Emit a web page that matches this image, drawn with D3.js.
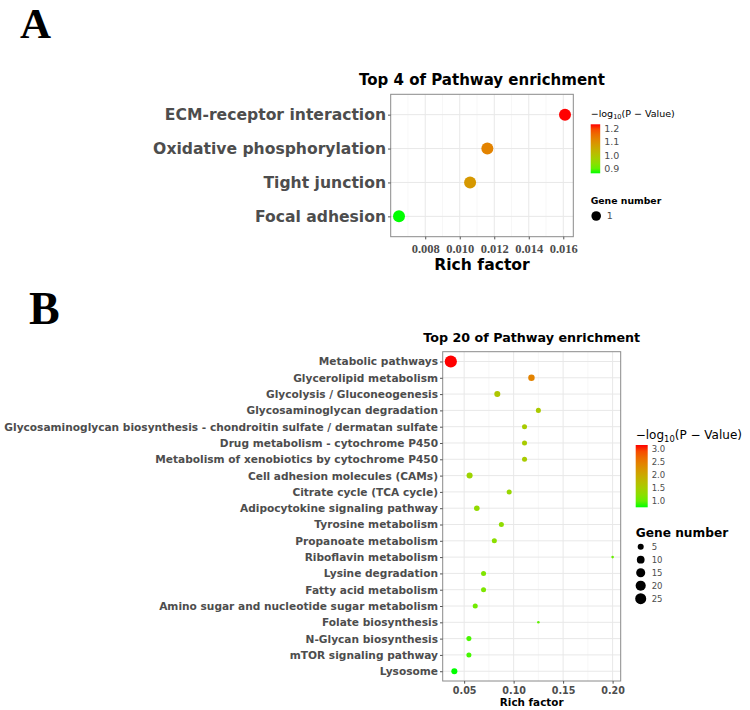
<html><head>
<meta charset="utf-8">
<title>Pathway enrichment</title>
<script src="https://d3js.org/d3.v7.min.js"></script>
<style>
  body { margin: 0; background: #fff; }
  text { font-family: "DejaVu Sans", sans-serif; }
</style>
</head>
<body>
<div id="chart"></div>
<script>
// ---- panel A data ----
const pathwaysA = ["ECM-receptor interaction", "Oxidative phosphorylation", "Tight junction", "Focal adhesion"];
const richA = [0.0161, 0.0116, 0.0106, 0.00648];
const logpA = [1.236, 1.124, 1.086, 0.862];
const genesA = [1, 1, 1, 1];
const xTicksA = [0.008, 0.010, 0.012, 0.014, 0.016];
const colorTicksA = [1.2, 1.1, 1.0, 0.9];
const sizeTicksA = [1];

// ---- panel B data ----
const pathwaysB = [
  "Metabolic pathways", "Glycerolipid metabolism", "Glycolysis / Gluconeogenesis",
  "Glycosaminoglycan degradation",
  "Glycosaminoglycan biosynthesis - chondroitin sulfate / dermatan sulfate",
  "Drug metabolism - cytochrome P450", "Metabolism of xenobiotics by cytochrome P450",
  "Cell adhesion molecules (CAMs)", "Citrate cycle (TCA cycle)", "Adipocytokine signaling pathway",
  "Tyrosine metabolism", "Propanoate metabolism", "Riboflavin metabolism", "Lysine degradation",
  "Fatty acid metabolism", "Amino sugar and nucleotide sugar metabolism", "Folate biosynthesis",
  "N-Glycan biosynthesis", "mTOR signaling pathway", "Lysosome"
];
const richB = [0.0365, 0.118, 0.0835, 0.125, 0.111, 0.111, 0.111, 0.0555, 0.0955, 0.0628,
  0.0876, 0.0805, 0.2, 0.0696, 0.0696, 0.0612, 0.125, 0.0548, 0.0548, 0.0401];
const logpB = [3.167, 2.44, 1.59, 1.54, 1.52, 1.52, 1.52, 1.40, 1.35, 1.30,
  1.28, 1.24, 1.00, 1.15, 1.13, 1.05, 0.95, 0.86, 0.85, 0.743];
const genesB = [32, 6, 5, 3, 3, 3, 3, 5, 3, 4, 3, 3, 1, 3, 3, 3, 1, 3, 3, 5];
const xTicksB = [0.05, 0.10, 0.15, 0.20];
const colorTicksB = [3.0, 2.5, 2.0, 1.5, 1.0];
const sizeTicksB = [5, 10, 15, 20, 25];

const svg = d3.select("#chart").append("svg")
  .attr("width", 750)
  .attr("height", 710);

const defs = svg.append("defs");
const lowColor = "#00ff00", highColor = "#ff0000";

// panel letters
svg.append("text").attr("x", 20).attr("y", 38)
  .style("font-family", "Liberation Serif").style("font-weight", "bold")
  .style("font-size", "43px").text("A");
svg.append("text").attr("x", 29).attr("y", 324)
  .style("font-family", "Liberation Serif").style("font-weight", "bold")
  .style("font-size", "46px").text("B");

function drawPanel(p) {
  const g = svg.append("g");
  const rows = p.names.map((n, i) => ({name: n, rich: p.rich[i], logp: p.logp[i], genes: p.genes[i]}));

  // ggplot style 5% expansion
  const ext = d3.extent(p.rich);
  const pad = (ext[1] - ext[0]) * 0.05;
  const x = d3.scaleLinear().domain([ext[0] - pad, ext[1] + pad]).range([p.left, p.right]);
  const y = d3.scalePoint().domain(p.names).range([p.top, p.bottom]).padding(0.6);

  const cExt = d3.extent(p.logp);
  const color = v => d3.interpolateLab(lowColor, highColor)((v - cExt[0]) / (cExt[1] - cExt[0]));
  const size = p.size;

  // minor grid
  const step = p.xTicks[1] - p.xTicks[0];
  const minor = [];
  for (let v = p.xTicks[0] - step / 2; v < x.domain()[1]; v += step) {
    if (v > x.domain()[0]) minor.push(v);
  }
  g.selectAll(".minor").data(minor).enter().append("line")
    .attr("x1", d => x(d)).attr("x2", d => x(d))
    .attr("y1", p.top).attr("y2", p.bottom)
    .attr("stroke", "#f2f2f2").attr("stroke-width", 0.6);
  g.selectAll(".vmaj").data(p.xTicks).enter().append("line")
    .attr("x1", d => x(d)).attr("x2", d => x(d))
    .attr("y1", p.top).attr("y2", p.bottom)
    .attr("stroke", "#e8e8e8").attr("stroke-width", 1);
  g.selectAll(".hmaj").data(p.names).enter().append("line")
    .attr("x1", p.left).attr("x2", p.right)
    .attr("y1", d => y(d)).attr("y2", d => y(d))
    .attr("stroke", "#e8e8e8").attr("stroke-width", 1);

  // points
  g.selectAll(".pt").data(rows).enter().append("circle")
    .attr("cx", d => x(d.rich)).attr("cy", d => y(d.name))
    .attr("r", d => size(d.genes))
    .attr("fill", d => color(d.logp));

  // border
  g.append("rect").attr("x", p.left).attr("y", p.top)
    .attr("width", p.right - p.left).attr("height", p.bottom - p.top)
    .attr("fill", "none").attr("stroke", "#8a8a8a").attr("stroke-width", 1);

  // y axis
  const yAxis = g.append("g").attr("transform", `translate(${p.left},0)`)
    .call(d3.axisLeft(y).tickSize(2.7).tickPadding(2));
  yAxis.select(".domain").remove();
  yAxis.selectAll("line").attr("stroke", "#555");
  yAxis.selectAll("text").attr("fill", "#4d4d4d")
    .style("font-family", "DejaVu Sans").style("font-weight", "bold")
    .style("font-size", p.yFont + "px");

  // x axis
  const xAxis = g.append("g").attr("transform", `translate(0,${p.bottom})`)
    .call(d3.axisBottom(x).tickValues(p.xTicks).tickFormat(d3.format(p.xFormat)).tickSize(2.7).tickPadding(p.xPad));
  xAxis.select(".domain").remove();
  xAxis.selectAll("line").attr("stroke", "#555");
  xAxis.selectAll("text").attr("fill", "#4d4d4d")
    .style("font-family", p.xFamily).style("font-weight", "bold")
    .style("font-size", p.xFont + "px");

  const cx = (p.left + p.right) / 2;
  g.append("text").attr("x", cx).attr("y", p.titleY).attr("text-anchor", "middle")
    .style("font-weight", "bold").style("font-size", p.titleFont + "px").text(p.title);
  g.append("text").attr("x", cx).attr("y", p.xlabY).attr("text-anchor", "middle")
    .style("font-weight", "bold").style("font-size", p.xlabFont + "px").text("Rich factor");

  // colour legend
  const L = p.legend;
  const lt = g.append("text").attr("x", L.x).attr("y", L.titleY).style("font-size", L.titleFont + "px");
  lt.append("tspan").text("\u2212log");
  lt.append("tspan").attr("dy", L.titleFont * 0.25).style("font-size", (L.titleFont * 0.7) + "px").text("10");
  lt.append("tspan").attr("dy", -L.titleFont * 0.25).text("(P \u2212 Value)");

  const gradId = "grad" + p.id;
  const grad = defs.append("linearGradient").attr("id", gradId)
    .attr("x1", 0).attr("y1", 1).attr("x2", 0).attr("y2", 0);
  d3.range(0, 1.0001, 0.1).forEach(t => {
    grad.append("stop").attr("offset", t).attr("stop-color", d3.interpolateLab(lowColor, highColor)(t));
  });
  g.append("rect").attr("x", L.x).attr("y", L.barTop)
    .attr("width", L.barW).attr("height", L.barBottom - L.barTop)
    .attr("fill", `url(#${gradId})`);
  const cy = d3.scaleLinear().domain(cExt).range([L.barBottom, L.barTop]);
  g.selectAll(".ctick").data(p.colorTicks).enter().append("text")
    .attr("x", L.x + L.barW + 4).attr("y", d => cy(d)).attr("dy", "0.35em")
    .attr("fill", "#4d4d4d").style("font-size", L.labFont + "px")
    .text(d => d.toFixed(1));

  // size legend
  g.append("text").attr("x", L.x).attr("y", L.sizeTitleY)
    .style("font-weight", "bold").style("font-size", L.sizeTitleFont + "px").text("Gene number");
  g.selectAll(".stick").data(p.sizeTicks).enter().append("circle")
    .attr("cx", L.x + L.circOff).attr("cy", (d, i) => L.sizeY0 + i * L.sizeStep)
    .attr("r", d => L.legSize(d)).attr("fill", "#000");
  g.selectAll(".slab").data(p.sizeTicks).enter().append("text")
    .attr("x", L.x + L.sizeLabOff).attr("y", (d, i) => L.sizeY0 + i * L.sizeStep).attr("dy", "0.35em")
    .attr("fill", "#4d4d4d").style("font-size", L.labFont + "px").text(d => d);
}

drawPanel({
  id: "A", names: pathwaysA, rich: richA, logp: logpA, genes: genesA,
  xTicks: xTicksA, colorTicks: colorTicksA, sizeTicks: sizeTicksA,
  left: 390.7, right: 573.3, top: 94.3, bottom: 236.7,
  size: () => 6,
  yFont: 15.6, xFamily: "Liberation Serif", xFont: 12.5, xFormat: ".3f", xPad: 5,
  title: "Top 4 of Pathway enrichment", titleY: 85, titleFont: 15,
  xlabY: 270, xlabFont: 15.6,
  legend: {
    x: 590.7, titleY: 117, titleFont: 9.5,
    barTop: 124.3, barBottom: 173.3, barW: 9.5, labFont: 9.5,
    sizeTitleY: 204.3, sizeTitleFont: 9.3, sizeY0: 216, sizeStep: 12,
    circOff: 5.5, sizeLabOff: 16, legSize: () => 4.8
  }
});

const geneMax = d3.max(genesB), geneMin = d3.min(genesB);
const sizeB = n => 1.3 + 4.8 * Math.sqrt((n - geneMin) / (geneMax - geneMin));

drawPanel({
  id: "B", names: pathwaysB, rich: richB, logp: logpB, genes: genesB,
  xTicks: xTicksB, colorTicks: colorTicksB, sizeTicks: sizeTicksB,
  left: 442.7, right: 620.7, top: 351.7, bottom: 681,
  size: sizeB,
  yFont: 10.6, xFamily: "DejaVu Sans", xFont: 9.6, xFormat: ".2f", xPad: 3,
  title: "Top 20 of Pathway enrichment", titleY: 342, titleFont: 12.7,
  xlabY: 705.5, xlabFont: 10.4,
  legend: {
    x: 635.7, titleY: 438.5, titleFont: 12,
    barTop: 445, barBottom: 507.3, barW: 12, labFont: 8.5,
    sizeTitleY: 536.7, sizeTitleFont: 12.2, sizeY0: 546.7, sizeStep: 13,
    circOff: 5, sizeLabOff: 16, legSize: sizeB
  }
});
</script>
</body></html>
